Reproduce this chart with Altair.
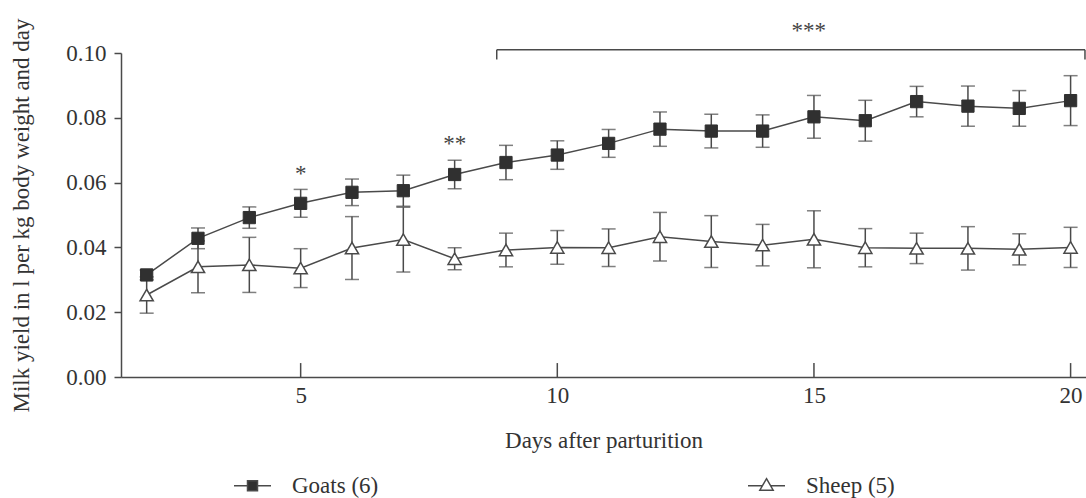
import altair as alt
import pandas as pd

# ---------------- data ----------------
days = list(range(2, 21))
goats_mean = [0.0315, 0.0428, 0.0492, 0.0536, 0.0570, 0.0575, 0.0625, 0.0662, 0.0685, 0.0721,
              0.0765, 0.0759, 0.0759, 0.0803, 0.0791, 0.0850, 0.0836, 0.0829, 0.0853]
goats_sd = [0.0015, 0.0032, 0.0033, 0.0043, 0.0041, 0.0048, 0.0044, 0.0053, 0.0044, 0.0043,
            0.0053, 0.0052, 0.0050, 0.0066, 0.0063, 0.0047, 0.0062, 0.0055, 0.0077]
sheep_mean = [0.0253, 0.0340, 0.0346, 0.0336, 0.0398, 0.0424, 0.0365, 0.0392, 0.0400, 0.0399,
              0.0433, 0.0418, 0.0407, 0.0425, 0.0399, 0.0397, 0.0397, 0.0394, 0.0400]
sheep_sd = [0.0056, 0.0080, 0.0085, 0.0060, 0.0097, 0.0100, 0.0034, 0.0052, 0.0052, 0.0058,
            0.0075, 0.0080, 0.0064, 0.0088, 0.0059, 0.0047, 0.0067, 0.0048, 0.0062]
series_names = ["Goats (6)", "Sheep (5)"]

x_ticks = [5, 10, 15, 20]
y_ticks = [0.0, 0.02, 0.04, 0.06, 0.08, 0.10]

star_labels = ["*", "**", "***"]
star_days = [5, 8, 14.9]
star_levels = [0.0605, 0.0697, 0.1047]

bracket_days = [8.82, 20.28]
bracket_level = 0.101
bracket_drop = 0.098

# ---------------- styling ----------------
FONT = "Liberation Serif"
FS = 23
LINE = "#4a4a4a"
TEXT = "#333333"
GOAT_FILL = "#303030"
X_TITLE = "Days after parturition"
Y_TITLE = "Milk yield in l per kg body weight and day"

rows = []
for name, means, sds in ((series_names[0], goats_mean, goats_sd),
                         (series_names[1], sheep_mean, sheep_sd)):
    for d, m, s in zip(days, means, sds):
        rows.append({"day": d, "series": name, "mean": m, "lo": m - s, "hi": m + s})
df = pd.DataFrame(rows)

xscale = alt.Scale(domain=[1.5, 20.3], nice=False, zero=False)
yscale = alt.Scale(domain=[0, 0.1], nice=False)
xaxis = alt.Axis(values=x_ticks, format="d", ticks=False, labelPadding=7, titlePadding=22,
                 title=X_TITLE)
yaxis = alt.Axis(values=y_ticks, format=".2f", tickSize=7, labelPadding=8, titlePadding=32,
                 title=Y_TITLE)


def X(field):
    return alt.X(field, type="quantitative", scale=xscale, axis=xaxis, title=X_TITLE)


def Y(field):
    return alt.Y(field, type="quantitative", scale=yscale, axis=yaxis, title=Y_TITLE)


base = alt.Chart(df).encode(x=X("day"))

err_rule = base.mark_rule(color=LINE, strokeWidth=1.5).encode(y=Y("lo"), y2="hi")
cap_lo = base.mark_tick(orient="horizontal", size=14, thickness=1.5, color=LINE).encode(y=Y("lo"))
cap_hi = base.mark_tick(orient="horizontal", size=14, thickness=1.5, color=LINE).encode(y=Y("hi"))
lines = base.mark_line(color=LINE, strokeWidth=1.5).encode(y=Y("mean"), detail="series:N")

sheep_pts = base.transform_filter(alt.datum.series == series_names[1]).mark_point(
    shape="triangle-up", size=175, filled=True, fill="white", stroke=LINE, strokeWidth=1.5,
    opacity=1).encode(y=Y("mean"))
goat_pts = base.transform_filter(alt.datum.series == series_names[0]).mark_point(
    shape="square", size=150, filled=True, fill=GOAT_FILL, stroke=GOAT_FILL, strokeWidth=1,
    opacity=1).encode(y=Y("mean"))

# legend-only layer: its marks sit below the plot area and are clipped away
goat_sym = "M-1,0H-0.27M0.27,0H1M-0.27,-0.27H0.27V0.27H-0.27Z"
sheep_sym = "M-1,0H-0.2M0.2,0H1M0,-0.38L0.36,0.24H-0.36Z"
legend = alt.Legend(title=None, orient="none", legendX=112, legendY=413, direction="horizontal",
                    symbolSize=1369, symbolStrokeWidth=1.5,
                    symbolOpacity=1, labelFont=FONT, labelFontSize=FS, labelColor=TEXT,
                    labelOffset=20, columnPadding=366)
legend_layer = base.mark_point(filled=True, strokeWidth=1.5, clip=True, opacity=1).encode(
    y=alt.Y(datum=-1, type="quantitative", scale=yscale, axis=yaxis, title=Y_TITLE),
    shape=alt.Shape("series:N", scale=alt.Scale(domain=series_names, range=[goat_sym, sheep_sym]),
                    legend=legend),
    fill=alt.Fill("series:N", scale=alt.Scale(domain=series_names, range=[GOAT_FILL, "white"]),
                  legend=legend),
    stroke=alt.Stroke("series:N", scale=alt.Scale(domain=series_names, range=[LINE, LINE]),
                      legend=legend),
)

tick_df = pd.DataFrame({"day": x_ticks})
x_tick_marks = alt.Chart(tick_df).mark_rule(color=LINE, strokeWidth=1.5).encode(
    x=X("day"), y=alt.Y(datum=0, type="quantitative", scale=yscale, axis=yaxis, title=Y_TITLE),
    y2=alt.Y2(datum=0.0043))

br_df = pd.DataFrame({"day": [bracket_days[0]], "day_end": [bracket_days[1]],
                      "mean": [bracket_level]})
bracket = alt.Chart(br_df).mark_rule(color=LINE, strokeWidth=1.5).encode(
    x=X("day"), x2="day_end", y=Y("mean"))
br_ends = pd.DataFrame({"day": bracket_days, "mean": [bracket_level] * 2,
                        "lo": [bracket_drop] * 2})
bracket_ends = alt.Chart(br_ends).mark_rule(color=LINE, strokeWidth=1.5).encode(
    x=X("day"), y=Y("mean"), y2="lo")

star_df = pd.DataFrame({"day": star_days, "mean": star_levels, "label": star_labels})
stars = alt.Chart(star_df).mark_text(font=FONT, fontSize=FS, color="#444444",
                                     baseline="alphabetic", align="center").encode(
    x=X("day"), y=Y("mean"), text="label:N")

chart = alt.layer(
    x_tick_marks, err_rule, cap_lo, cap_hi, lines, sheep_pts, goat_pts, legend_layer,
    bracket, bracket_ends, stars,
).properties(
    width=965, height=324,
    autosize=alt.AutoSizeParams(type="none"),
    padding={"left": 121, "top": 53, "right": 0, "bottom": 121},
).configure(background="white").configure_view(stroke=None).configure_axis(
    labelFont=FONT, labelFontSize=FS, labelColor=TEXT,
    titleFont=FONT, titleFontSize=FS, titleColor=TEXT, titleFontWeight="normal",
    domainColor=LINE, domainWidth=1.5, tickColor=LINE, tickWidth=1.5, grid=False,
)

chart.save("out.html", embed_options={"renderer": "svg", "actions": False})
